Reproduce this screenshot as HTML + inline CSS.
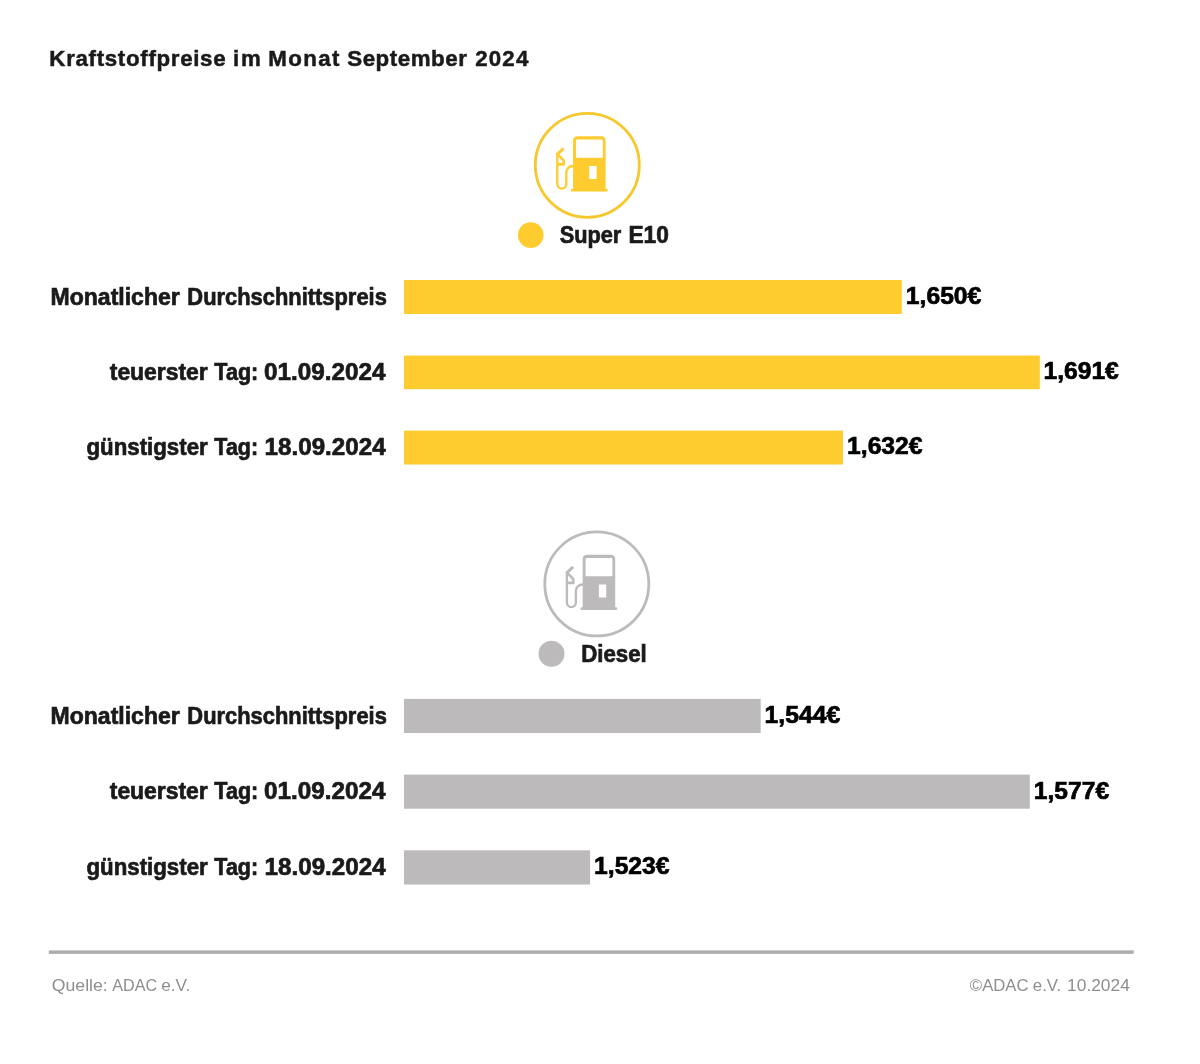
<!DOCTYPE html>
<html lang="de">
<head>
<meta charset="utf-8">
<title>Kraftstoffpreise im Monat September 2024</title>
<style>
  html, body { margin: 0; padding: 0; background: #ffffff; }
  body { width: 1200px; height: 1064px; overflow: hidden; font-family: "Liberation Sans", sans-serif; }
  svg { display: block; will-change: transform; }
  text { font-family: "Liberation Sans", sans-serif; }
  .b { font-weight: 700; fill: #1a1a1a; stroke: #1a1a1a; stroke-width: 0.7px; }
  .t { font-weight: 700; fill: #1a1a1a; stroke: #1a1a1a; stroke-width: 0.5px; }
  .p { font-weight: 700; fill: #000000; stroke: #000000; stroke-width: 0.7px; }
  .f { font-weight: 400; fill: #8e8e8e; }
</style>
</head>
<body>
<svg width="1200" height="1064" viewBox="0 0 1200 1064">

  <!-- Super E10 icon + legend dot -->
  <circle cx="587.3" cy="165.3" r="52" fill="none" stroke="#f6c82d" stroke-width="2.8"/>
  <g fill="#fecc2e" stroke="none">
      <path fill-rule="evenodd" d="M573.05,191 V140.5 a4.2,4.2 0 0 1 4.2,-4.2 H601.4 a4.2,4.2 0 0 1 4.2,4.2 V191 Z M577.3,139.4 a1.3,1.3 0 0 0 -1.3,1.3 V157.8 H602.8 V140.7 a1.3,1.3 0 0 0 -1.3,-1.3 Z M589.3,165.9 H596.6 V178.9 H589.3 Z"/>
      <path d="M572.3,190.2 H606.3" fill="none" stroke="#fecc2e" stroke-width="2.8" stroke-linecap="round"/>
      <path d="M557.3,154.2 V184.1 a4.5,4.5 0 0 0 9,0 V172.5 a6.5,6.5 0 0 1 6.5,-6.5 H574" fill="none" stroke="#fecc2e" stroke-width="2.3"/>
      <path d="M556.7,154.8 L563.5,148.3" fill="none" stroke="#fecc2e" stroke-width="3"/>
      <path d="M558.2,154.8 L563.7,160.6 V164.4 H557.3" fill="none" stroke="#fecc2e" stroke-width="2.6" stroke-linejoin="round"/>
  </g>
  <circle cx="530.7" cy="235.1" r="12.8" fill="#fecc2e"/>

  <!-- Diesel icon + legend dot -->
  <circle cx="596.8" cy="583.9" r="52" fill="none" stroke="#bcbaba" stroke-width="2.8"/>
  <g fill="#bcbaba" stroke="none" transform="translate(9.6 418.5)">
      <path fill-rule="evenodd" d="M573.05,191 V140.5 a4.2,4.2 0 0 1 4.2,-4.2 H601.4 a4.2,4.2 0 0 1 4.2,4.2 V191 Z M577.3,139.4 a1.3,1.3 0 0 0 -1.3,1.3 V157.8 H602.8 V140.7 a1.3,1.3 0 0 0 -1.3,-1.3 Z M589.3,165.9 H596.6 V178.9 H589.3 Z"/>
      <path d="M572.3,190.2 H606.3" fill="none" stroke="#bcbaba" stroke-width="2.8" stroke-linecap="round"/>
      <path d="M557.3,154.2 V184.1 a4.5,4.5 0 0 0 9,0 V172.5 a6.5,6.5 0 0 1 6.5,-6.5 H574" fill="none" stroke="#bcbaba" stroke-width="2.3"/>
      <path d="M556.7,154.8 L563.5,148.3" fill="none" stroke="#bcbaba" stroke-width="3"/>
      <path d="M558.2,154.8 L563.7,160.6 V164.4 H557.3" fill="none" stroke="#bcbaba" stroke-width="2.6" stroke-linejoin="round"/>
  </g>
  <circle cx="551.5" cy="653.75" r="13" fill="#bcbaba"/>

  <!-- Bars -->
  <rect x="404" y="280.0" width="497.8" height="34.00" fill="#fecc2e"/>
  <rect x="404" y="355.55" width="635.8" height="33.65" fill="#fecc2e"/>
  <rect x="404" y="430.6" width="439.0" height="33.90" fill="#fecc2e"/>
  <rect x="404" y="698.9" width="356.7" height="34.10" fill="#bcbaba"/>
  <rect x="404" y="774.6" width="625.8" height="34.10" fill="#bcbaba"/>
  <rect x="404" y="850.3" width="186.1" height="34.20" fill="#bcbaba"/>

  <!-- Footer rule -->
  <rect x="48.8" y="950.4" width="1084.9" height="3.5" fill="#adadad"/>

  <!-- Text -->
  <text class="t" x="49.35" y="66.00" font-size="22.3" textLength="176.24" lengthAdjust="spacing">Kraftstoffpreise</text>
  <text class="t" x="233.03" y="66.00" font-size="22.3" textLength="27.91" lengthAdjust="spacing">im</text>
  <text class="t" x="268.19" y="66.00" font-size="22.3" textLength="71.33" lengthAdjust="spacing">Monat</text>
  <text class="t" x="347.21" y="66.00" font-size="22.3" textLength="119.72" lengthAdjust="spacing">September</text>
  <text class="t" x="475.28" y="66.00" font-size="22.3" textLength="53.02" lengthAdjust="spacing">2024</text>
  <text class="b" x="559.68" y="243.00" font-size="23.5" textLength="61.68" lengthAdjust="spacingAndGlyphs">Super</text>
  <text class="b" x="628.43" y="243.00" font-size="23.5" textLength="40.38" lengthAdjust="spacingAndGlyphs">E10</text>
  <text class="b" x="50.59" y="305.00" font-size="23.5" textLength="129.17" lengthAdjust="spacingAndGlyphs">Monatlicher</text>
  <text class="b" x="187.34" y="305.00" font-size="23.5" textLength="199.49" lengthAdjust="spacingAndGlyphs">Durchschnittspreis</text>
  <text class="p" x="905.85" y="304.00" font-size="24.6" textLength="75.44" lengthAdjust="spacingAndGlyphs">1,650€</text>
  <text class="b" x="109.77" y="380.00" font-size="23.5" textLength="97.96" lengthAdjust="spacingAndGlyphs">teuerster</text>
  <text class="b" x="214.36" y="380.00" font-size="23.5" textLength="43.95" lengthAdjust="spacingAndGlyphs">Tag:</text>
  <text class="b" x="264.06" y="380.00" font-size="23.5" textLength="121.51" lengthAdjust="spacingAndGlyphs">01.09.2024</text>
  <text class="p" x="1043.46" y="379.00" font-size="24.6" textLength="75.33" lengthAdjust="spacingAndGlyphs">1,691€</text>
  <text class="b" x="86.51" y="455.00" font-size="23.5" textLength="121.22" lengthAdjust="spacingAndGlyphs">günstigster</text>
  <text class="b" x="214.36" y="455.00" font-size="23.5" textLength="43.72" lengthAdjust="spacingAndGlyphs">Tag:</text>
  <text class="b" x="264.60" y="455.00" font-size="23.5" textLength="120.99" lengthAdjust="spacingAndGlyphs">18.09.2024</text>
  <text class="p" x="847.07" y="454.00" font-size="24.6" textLength="75.46" lengthAdjust="spacingAndGlyphs">1,632€</text>
  <text class="b" x="581.25" y="662.00" font-size="23.5" textLength="65.55" lengthAdjust="spacingAndGlyphs">Diesel</text>
  <text class="b" x="50.59" y="724.00" font-size="23.5" textLength="129.17" lengthAdjust="spacingAndGlyphs">Monatlicher</text>
  <text class="b" x="187.34" y="724.00" font-size="23.5" textLength="199.49" lengthAdjust="spacingAndGlyphs">Durchschnittspreis</text>
  <text class="p" x="764.56" y="723.00" font-size="24.6" textLength="75.70" lengthAdjust="spacingAndGlyphs">1,544€</text>
  <text class="b" x="109.77" y="799.00" font-size="23.5" textLength="97.96" lengthAdjust="spacingAndGlyphs">teuerster</text>
  <text class="b" x="214.36" y="799.00" font-size="23.5" textLength="43.95" lengthAdjust="spacingAndGlyphs">Tag:</text>
  <text class="b" x="264.06" y="799.00" font-size="23.5" textLength="121.51" lengthAdjust="spacingAndGlyphs">01.09.2024</text>
  <text class="p" x="1033.84" y="799.00" font-size="24.6" textLength="75.26" lengthAdjust="spacingAndGlyphs">1,577€</text>
  <text class="b" x="86.51" y="875.00" font-size="23.5" textLength="121.22" lengthAdjust="spacingAndGlyphs">günstigster</text>
  <text class="b" x="214.36" y="875.00" font-size="23.5" textLength="43.72" lengthAdjust="spacingAndGlyphs">Tag:</text>
  <text class="b" x="264.60" y="875.00" font-size="23.5" textLength="120.99" lengthAdjust="spacingAndGlyphs">18.09.2024</text>
  <text class="p" x="594.07" y="874.00" font-size="24.6" textLength="75.46" lengthAdjust="spacingAndGlyphs">1,523€</text>
  <text class="f" x="51.79" y="991.00" font-size="17.2" textLength="55.98" lengthAdjust="spacingAndGlyphs">Quelle:</text>
  <text class="f" x="112.25" y="991.00" font-size="17.2" textLength="44.81" lengthAdjust="spacingAndGlyphs">ADAC</text>
  <text class="f" x="161.24" y="991.00" font-size="17.2" textLength="29.08" lengthAdjust="spacingAndGlyphs">e.V.</text>
  <text class="f" x="969.85" y="991.00" font-size="17.2" textLength="58.71" lengthAdjust="spacingAndGlyphs">©ADAC</text>
  <text class="f" x="1032.83" y="991.00" font-size="17.2" textLength="28.39" lengthAdjust="spacingAndGlyphs">e.V.</text>
  <text class="f" x="1067.07" y="991.00" font-size="17.2" textLength="62.79" lengthAdjust="spacingAndGlyphs">10.2024</text>
</svg>
</body>
</html>
